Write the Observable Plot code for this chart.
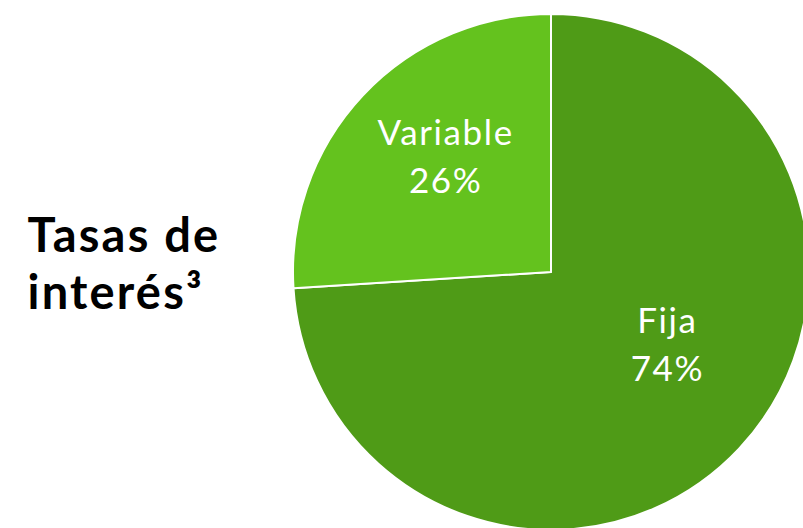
<!DOCTYPE html>
<html>
<head>
<meta charset="utf-8">
<script src="https://cdn.jsdelivr.net/npm/d3@7"></script>
<script src="https://cdn.jsdelivr.net/npm/@observablehq/plot@0.6"></script>
<style>
  html, body { margin: 0; padding: 0; background: #fff; overflow: hidden; }
</style>
</head>
<body>
<div id="chart"></div>
<script>
// Data
const categories = ["Fija", "Variable"];
const shares = [74, 26];
const colors = ["#4F9B17", "#64C21E"];
const titleLines = ["Tasas de", "interés³"];

const slices = categories.map((label, i) => ({label, value: shares[i], color: colors[i]}));
const arcs = d3.pie().sort(null).value(d => d.value)(slices);

const W = 803, H = 528;
const cx = 551, cy = 272, R = 258;

const labelR = 0.6;
const labelShift = {Fija: [3, -37], Variable: [7, -13]};
const labelData = arcs.map(a => {
  const mid = (a.startAngle + a.endAngle) / 2;
  return {
    label: a.data.label,
    text: `${a.data.label}\n${a.data.value}%`,
    x: labelR * Math.sin(mid),
    y: labelR * Math.cos(mid),
    shift: labelShift[a.data.label]
  };
});

const pieMark = (index, scales) => {
  const X = scales.x, Y = scales.y;
  const ox = X(0), oy = Y(0), r = X(1) - X(0);
  const g = d3.create("svg:g").attr("transform", `translate(${ox},${oy})`);
  const arc = d3.arc().innerRadius(0).outerRadius(r);
  g.selectAll("path").data(arcs).join("path")
    .attr("d", arc)
    .attr("fill", d => d.data.color)
    .attr("stroke", "#fff")
    .attr("stroke-width", 2)
    .attr("stroke-linejoin", "round");
  return g.node();
};

const chart = Plot.plot({
  width: W,
  height: H,
  margin: 0,
  x: {type: "linear", domain: [-1, 1], range: [cx - R, cx + R], axis: null},
  y: {type: "linear", domain: [-1, 1], range: [cy + R, cy - R], axis: null},
  style: {background: "#fff", overflow: "hidden"},
  marks: [
    pieMark,
    ...labelData.map(d => Plot.text([d], {
      x: "x", y: "y", text: "text", dx: d.shift[0], dy: d.shift[1],
      fill: "#fff", fontSize: 35, fontFamily: "Lato", fontWeight: 400,
      lineHeight: 1.38, textAnchor: "middle"
    })),
    Plot.text([titleLines.join("\n")], {
      frameAnchor: "left", dx: 27, dy: -2,
      fill: "#000", fontSize: 47, fontWeight: 700, fontFamily: "Lato",
      textAnchor: "start", lineHeight: 1.2
    })
  ]
});
const textGroups = d3.select(chart).selectAll("g[aria-label='text']").nodes();
textGroups.forEach((g, i) => {
  d3.select(g).attr("letter-spacing", i === textGroups.length - 1 ? 2.2 : 1.6);
});
document.getElementById("chart").appendChild(chart);
</script>
</body>
</html>
